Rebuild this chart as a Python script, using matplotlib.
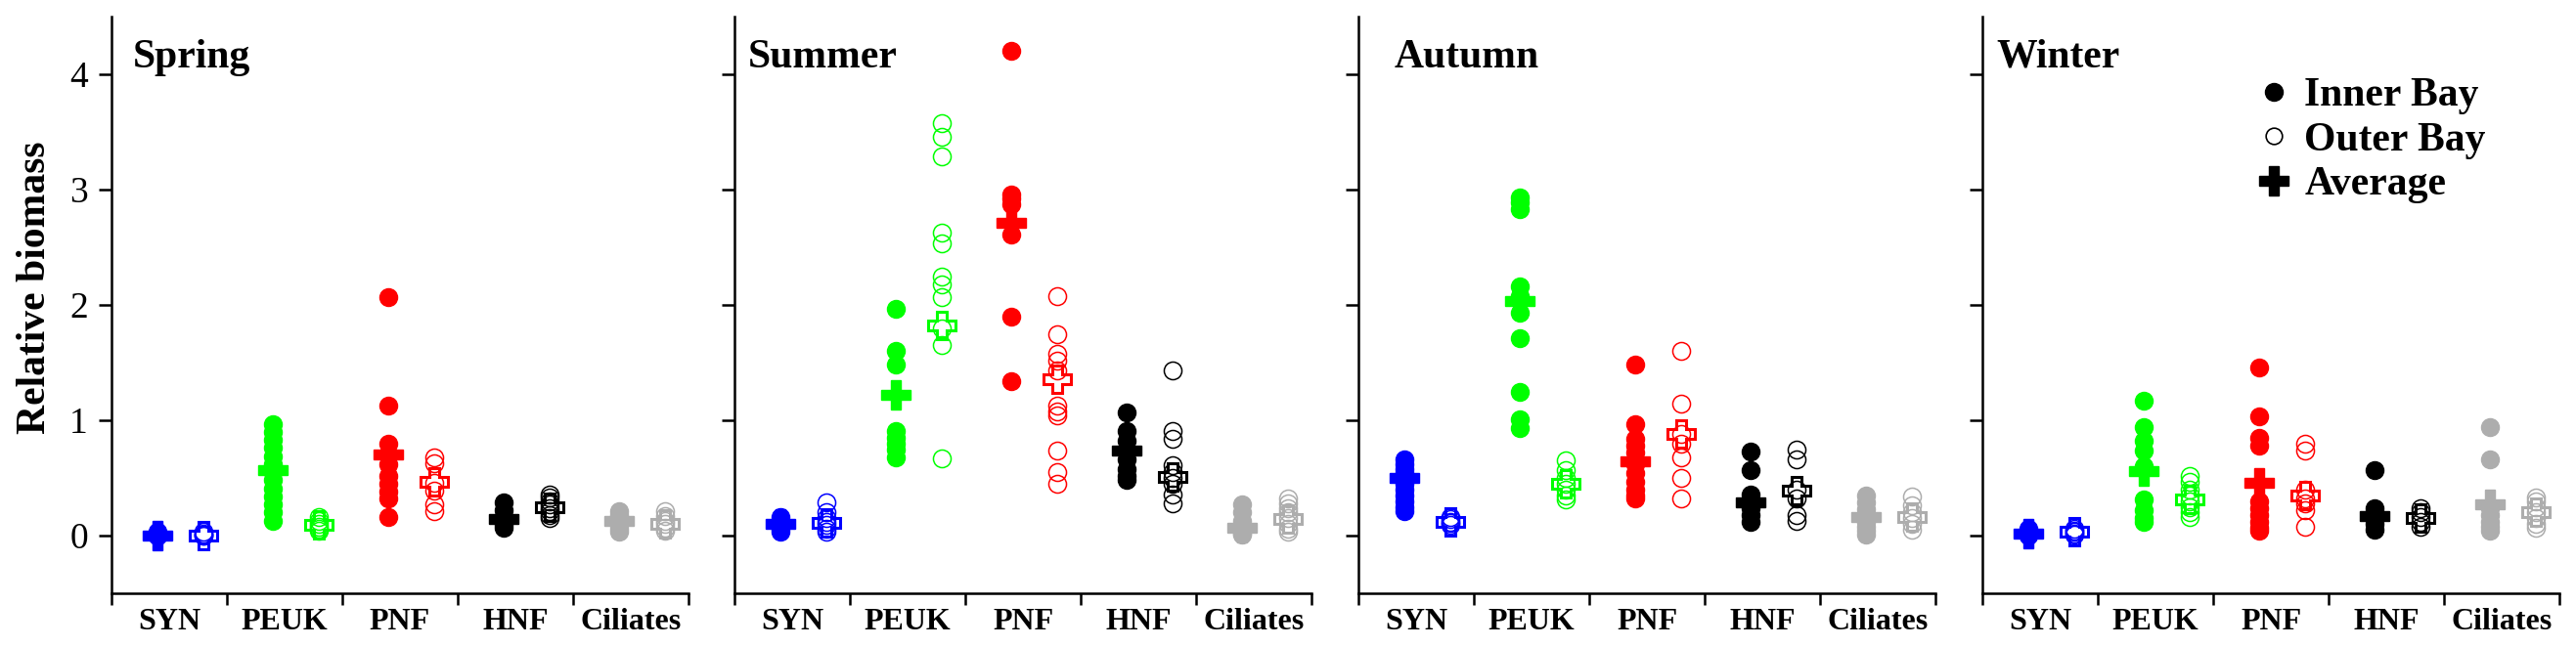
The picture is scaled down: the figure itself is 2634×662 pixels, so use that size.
import matplotlib
matplotlib.use("Agg")
import matplotlib.pyplot as plt
from matplotlib.lines import Line2D
import numpy as np

plt.rcParams['font.family'] = ['Liberation Serif', 'DejaVu Serif']

categories = ['SYN', 'PEUK', 'PNF', 'HNF', 'Ciliates']
seasons = ['Spring', 'Summer', 'Autumn', 'Winter']
colors = ['#0000FF', '#00FF00', '#FF0000', '#000000', '#ADADAD']

# relative biomass per category (SYN, PEUK, PNF, HNF, Ciliates)
spring_inner = [
    [0.03, 0.02, 0.01, 0.01, 0.0, 0.0, 0.0],
    [0.97, 0.9, 0.83, 0.76, 0.69, 0.62, 0.55, 0.48, 0.41, 0.34, 0.27, 0.2, 0.13],
    [2.07, 1.13, 0.8, 0.7, 0.62, 0.52, 0.45, 0.38, 0.32, 0.16],
    [0.29, 0.22, 0.16, 0.12, 0.09, 0.07],
    [0.21, 0.18, 0.15, 0.12, 0.09, 0.06, 0.03],
]
spring_outer = [
    [0.03, 0.02, 0.01, 0.0, 0.0],
    [0.16, 0.13, 0.1, 0.08, 0.06, 0.04],
    [0.68, 0.63, 0.46, 0.39, 0.27, 0.21],
    [0.36, 0.33, 0.3, 0.27, 0.24, 0.21, 0.18, 0.15],
    [0.21, 0.17, 0.13, 0.1, 0.07, 0.04],
]
spring_avg_inner = [0.0, 0.57, 0.7, 0.14, 0.13]
spring_avg_outer = [0.0, 0.09, 0.47, 0.25, 0.1]

summer_inner = [
    [0.16, 0.13, 0.1, 0.08, 0.06, 0.03],
    [1.97, 1.6, 1.48, 0.91, 0.85, 0.8, 0.75, 0.68],
    [4.2, 2.96, 2.92, 2.87, 2.61, 1.9, 1.34],
    [1.07, 0.91, 0.82, 0.74, 0.66, 0.58, 0.52, 0.48],
    [0.27, 0.2, 0.13, 0.08, 0.04, 0.02, 0.01],
]
summer_outer = [
    [0.29, 0.2, 0.15, 0.12, 0.09, 0.06, 0.03],
    [3.58, 3.46, 3.29, 2.63, 2.53, 2.25, 2.18, 2.07, 1.8, 1.65, 0.67],
    [2.08, 1.75, 1.58, 1.52, 1.43, 1.13, 1.08, 1.04, 0.74, 0.55, 0.45],
    [1.43, 0.91, 0.84, 0.61, 0.55, 0.5, 0.45, 0.36, 0.28],
    [0.32, 0.28, 0.24, 0.2, 0.15, 0.1, 0.06, 0.03],
]
summer_avg_inner = [0.1, 1.22, 2.71, 0.74, 0.07]
summer_avg_outer = [0.11, 1.82, 1.36, 0.51, 0.14]

autumn_inner = [
    [0.66, 0.62, 0.58, 0.54, 0.5, 0.45, 0.4, 0.35, 0.3, 0.25, 0.21],
    [2.93, 2.89, 2.83, 2.16, 2.08, 1.93, 1.71, 1.25, 1.01, 0.93],
    [1.48, 0.97, 0.84, 0.78, 0.72, 0.62, 0.54, 0.47, 0.4, 0.35, 0.32],
    [0.73, 0.57, 0.36, 0.3, 0.24, 0.18, 0.12],
    [0.35, 0.29, 0.23, 0.17, 0.12, 0.08, 0.04, 0.01],
]
autumn_outer = [
    [0.16, 0.14, 0.12, 0.11, 0.09],
    [0.65, 0.57, 0.5, 0.45, 0.4, 0.35, 0.31],
    [1.6, 1.14, 0.88, 0.8, 0.68, 0.5, 0.32],
    [0.75, 0.66, 0.4, 0.32, 0.18, 0.13],
    [0.34, 0.26, 0.2, 0.15, 0.1, 0.05],
]
autumn_avg_inner = [0.5, 2.03, 0.64, 0.29, 0.16]
autumn_avg_outer = [0.12, 0.45, 0.88, 0.39, 0.16]

winter_inner = [
    [0.06, 0.04, 0.03, 0.02, 0.01, 0.0],
    [1.17, 0.94, 0.82, 0.74, 0.6, 0.31, 0.22, 0.15, 0.12],
    [1.46, 1.03, 0.85, 0.78, 0.3, 0.24, 0.18, 0.12, 0.07, 0.04],
    [0.57, 0.24, 0.2, 0.15, 0.1, 0.05],
    [0.94, 0.66, 0.24, 0.18, 0.12, 0.08, 0.04],
]
winter_outer = [
    [0.06, 0.04, 0.03, 0.02, 0.01],
    [0.52, 0.47, 0.4, 0.35, 0.3, 0.25, 0.2, 0.16],
    [0.8, 0.74, 0.4, 0.32, 0.28, 0.22, 0.08],
    [0.24, 0.2, 0.16, 0.12, 0.08],
    [0.33, 0.3, 0.25, 0.2, 0.15, 0.1, 0.07],
]
winter_avg_inner = [0.02, 0.56, 0.46, 0.17, 0.27]
winter_avg_outer = [0.03, 0.31, 0.35, 0.15, 0.2]

inner_all = [spring_inner, summer_inner, autumn_inner, winter_inner]
outer_all = [spring_outer, summer_outer, autumn_outer, winter_outer]
avg_in_all = [spring_avg_inner, summer_avg_inner, autumn_avg_inner, winter_avg_inner]
avg_out_all = [spring_avg_outer, summer_avg_outer, autumn_avg_outer, winter_avg_outer]

W, H = 2634, 662
fig = plt.figure(figsize=(W / 100, H / 100), dpi=100)

lefts_px = [114, 751, 1389, 2027]
title_x = [0.037, 0.024, 0.062, 0.025]

for k, season in enumerate(seasons):
    ax = fig.add_axes([lefts_px[k] / W, 1 - 607 / H, 590 / W, 590 / H])

    for i, c in enumerate(colors):
        vin = inner_all[k][i]
        vout = outer_all[k][i]
        ax.plot([i - 0.1] * len(vin), vin, 'o', color=c, ms=13, mec=c, zorder=2)
        ax.plot([i + 0.3] * len(vout), vout, 'o', mfc='none', mec=c, ms=13, mew=1.1, zorder=2)
        ax.plot(i - 0.1, avg_in_all[k][i], 'P', color=c, mec=c, ms=22, zorder=3)
        ax.plot(i + 0.3, avg_out_all[k][i], 'P', mfc='none', mec=c, ms=20, mew=2.2, zorder=3)

    ax.set_xlim(-0.5, 4.5)
    ax.set_ylim(-0.5, 4.5)
    ax.spines['top'].set_visible(False)
    ax.spines['right'].set_visible(False)
    ax.spines['left'].set_linewidth(1.8)
    ax.spines['bottom'].set_linewidth(1.8)

    ax.set_xticks(np.arange(-0.5, 5, 1))
    ax.set_xticklabels([])
    ax.set_xticks(range(5), minor=True)
    ax.set_xticklabels(categories, minor=True, fontsize=23, fontweight='bold')
    ax.tick_params(axis='x', which='major', length=8.6, width=1.8, direction='out')
    ax.tick_params(axis='x', which='minor', length=0, pad=11)

    ax.set_yticks([0, 1, 2, 3, 4])
    ax.tick_params(axis='y', length=9.4, width=1.8, pad=8, labelsize=27)
    if k == 0:
        ax.set_ylabel('Relative biomass', fontsize=30, fontweight='bold')
        ax.yaxis.set_label_coords(-0.10, 0.53)
    else:
        ax.tick_params(axis='y', labelleft=False)

    ax.text(title_x[k], 0.929, season, transform=ax.transAxes, fontsize=30,
            fontweight='bold', ha='left', va='center')

    if k == 3:
        handles = [
            Line2D([], [], marker='o', ls='', color='k', ms=13),
            Line2D([], [], marker='o', ls='', mfc='none', mec='k', ms=12, mew=1.2),
            Line2D([], [], marker='P', ls='', color='k', ms=22),
        ]
        ax.legend(handles, ['Inner Bay', 'Outer Bay', 'Average'], loc='upper left',
                  bbox_to_anchor=(0.471, 0.895), frameon=False,
                  prop={'weight': 'bold', 'size': 30}, handlelength=0.97,
                  handletextpad=0.26, labelspacing=0.18, borderpad=0,
                  borderaxespad=0)

fig.savefig('out.png', dpi=100)
